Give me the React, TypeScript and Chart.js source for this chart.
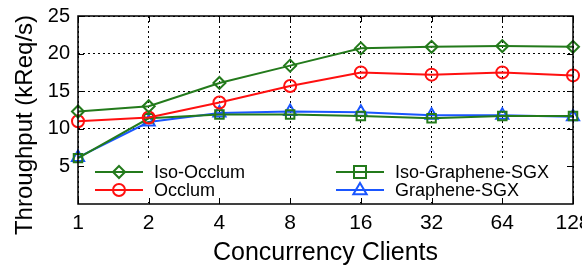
import React, { useEffect, useRef } from "react";
import { Chart, registerables } from "chart.js";

Chart.register(...registerables);

const categories = ["1", "2", "4", "8", "16", "32", "64", "128"];
const isoOcclum = [12.3, 13.0, 16.1, 18.4, 20.7, 20.9, 21.0, 20.9];
const occlum = [11.0, 11.5, 13.5, 15.7, 17.5, 17.2, 17.5, 17.1];
const isoGraphene = [6.1, 11.4, 11.9, 11.9, 11.7, 11.4, 11.7, 11.7];
const graphene = [6.2, 10.9, 12.1, 12.3, 12.2, 11.8, 11.8, 11.6];
const yTicks = [5, 10, 15, 20, 25];
const yTitle = "Throughput (kReq/s)";
const xTitle = "Concurrency Clients";

const GREEN = "#237a1b";
const RED = "#ff1010";
const BLUE = "#1a56ff";
const FONT = "'Liberation Sans', Arial, sans-serif";

const legendItems = [
  { label: "Iso-Occlum", color: GREEN, style: "rectRot", col: 0, row: 0 },
  { label: "Occlum", color: RED, style: "circle", col: 0, row: 1 },
  { label: "Iso-Graphene-SGX", color: GREEN, style: "rect", col: 1, row: 0 },
  { label: "Graphene-SGX", color: BLUE, style: "triangle", col: 1, row: 1 },
];

function drawMarker(ctx: any, style: string, x: number, y: number, r: number, color: string) {
  ctx.save();
  ctx.strokeStyle = color;
  ctx.lineWidth = 2;
  ctx.beginPath();
  if (style === "circle") {
    ctx.arc(x, y, r, 0, Math.PI * 2);
  } else if (style === "rect") {
    ctx.rect(x - r, y - r, 2 * r, 2 * r);
  } else if (style === "rectRot") {
    ctx.moveTo(x, y - r);
    ctx.lineTo(x + r, y);
    ctx.lineTo(x, y + r);
    ctx.lineTo(x - r, y);
    ctx.closePath();
  } else {
    ctx.moveTo(x, y - r);
    ctx.lineTo(x + r * 0.95, y + r * 0.6);
    ctx.lineTo(x - r * 0.95, y + r * 0.6);
    ctx.closePath();
  }
  ctx.stroke();
  ctx.restore();
}

const framePlugin = {
  id: "frame",
  beforeDatasetsDraw(chart: any) {
    const { ctx, chartArea: a } = chart;
    ctx.save();
    ctx.fillStyle = "#fff";
    ctx.fillRect(a.left + 2, 161, a.right - a.left - 4, a.bottom - 161 - 2);
    const colX = [95, 336];
    const rowY = [172, 190];
    ctx.font = `18px ${FONT}`;
    ctx.textBaseline = "middle";
    ctx.textAlign = "left";
    for (const it of legendItems) {
      const x0 = colX[it.col];
      const y = rowY[it.row];
      ctx.strokeStyle = it.color;
      ctx.lineWidth = 2;
      ctx.beginPath();
      ctx.moveTo(x0, y);
      ctx.lineTo(x0 + 48, y);
      ctx.stroke();
      const r = it.style === "triangle" ? 7 : 6;
      drawMarker(ctx, it.style, x0 + 24, y, r, it.color);
      ctx.fillStyle = "#000";
      ctx.fillText(it.label, x0 + 59, y + 1);
    }
    ctx.restore();
  },
  afterDraw(chart: any) {
    const { ctx, chartArea: a, scales } = chart;
    ctx.save();
    ctx.strokeStyle = "#000";
    ctx.lineWidth = 1.5;
    ctx.strokeRect(a.left, a.top, a.right - a.left, a.bottom - a.top);
    ctx.lineWidth = 1;
    const t = 6;
    ctx.beginPath();
    categories.forEach((_, i) => {
      const x = Math.round(scales.x.getPixelForValue(i)) + 0.5;
      ctx.moveTo(x, a.bottom);
      ctx.lineTo(x, a.bottom - t);
      ctx.moveTo(x, a.top);
      ctx.lineTo(x, a.top + t);
    });
    yTicks.forEach((v) => {
      const y = Math.round(scales.y.getPixelForValue(v)) + 0.5;
      ctx.moveTo(a.left, y);
      ctx.lineTo(a.left + t, y);
      ctx.moveTo(a.right, y);
      ctx.lineTo(a.right - t, y);
    });
    ctx.stroke();
    // y-axis title
    ctx.translate(25, 125);
    ctx.rotate(-Math.PI / 2);
    ctx.fillStyle = "#000";
    ctx.font = `24px ${FONT}`;
    ctx.textAlign = "center";
    ctx.textBaseline = "middle";
    ctx.fillText(yTitle, 0, 0);
    ctx.restore();
  },
};

export default function App() {
  const ref = useRef<HTMLCanvasElement>(null);
  useEffect(() => {
    const mk = (label: string, data: number[], color: string, style: string, r: number) => ({
      label,
      data,
      borderColor: color,
      backgroundColor: "rgba(255,255,255,0)",
      borderWidth: 2,
      pointStyle: style,
      pointRadius: r,
      pointBorderWidth: 2,
      pointBackgroundColor: "rgba(255,255,255,0)",
      pointBorderColor: color,
      tension: 0,
    });
    const chart = new Chart(ref.current!, {
      type: "line",
      data: {
        labels: categories,
        datasets: [
          mk("Iso-Occlum", isoOcclum, GREEN, "rectRot", 6),
          mk("Occlum", occlum, RED, "circle", 6),
          mk("Iso-Graphene-SGX", isoGraphene, GREEN, "rect", 6),
          mk("Graphene-SGX", graphene, BLUE, "triangle", 7),
        ],
      },
      options: {
        animation: false,
        responsive: false,
        maintainAspectRatio: false,
        layout: { padding: { top: 16, right: 9, left: 0, bottom: 0 } },
        plugins: { legend: { display: false }, tooltip: { enabled: false } },
        scales: {
          x: {
            type: "category",
            offset: false,
            grid: { color: "#000", lineWidth: 1, drawTicks: false },
            border: { display: false, dash: [2, 3] },
            ticks: {
              color: "#000",
              font: { family: FONT, size: 21 },
              padding: 7,
              maxRotation: 0,
              autoSkip: false,
            },
            title: {
              display: true,
              text: xTitle,
              color: "#000",
              font: { family: FONT, size: 25 },
              padding: { top: 0, bottom: 0 },
            },
            afterFit: (s: any) => {
              s.height = 64;
              s.paddingLeft = 0;
              s.paddingRight = 0;
            },
          },
          y: {
            min: 0,
            max: 25,
            afterBuildTicks: (s: any) => {
              s.ticks = yTicks.map((v) => ({ value: v }));
            },
            grid: { color: "#000", lineWidth: 1, drawTicks: false },
            border: { display: false, dash: [2, 3] },
            ticks: {
              color: "#000",
              font: { family: FONT, size: 20 },
              padding: 8,
            },
            afterFit: (s: any) => {
              s.width = 78;
              s.paddingTop = 0;
              s.paddingBottom = 0;
            },
          },
        },
      },
      plugins: [framePlugin],
    } as any);
    return () => chart.destroy();
  }, []);
  return (
    <div style={{ position: "absolute", left: 0, top: 0, width: 582, height: 268, overflow: "hidden", background: "#fff" }}>
      <canvas ref={ref} width={582} height={268} style={{ width: 582, height: 268, display: "block" }} />
    </div>
  );
}
